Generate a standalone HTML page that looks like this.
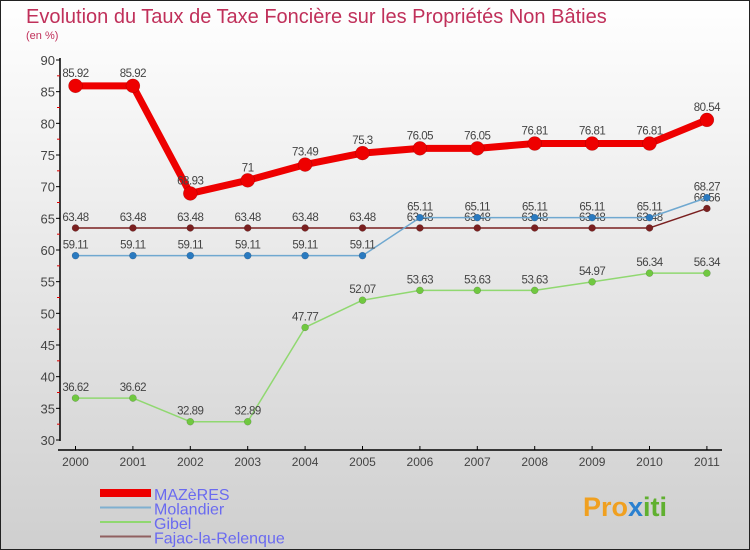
<!DOCTYPE html>
<html><head><meta charset="utf-8"><style>
body{margin:0;width:750px;height:550px;overflow:hidden}
svg{display:block;font-family:"Liberation Sans","DejaVu Sans",sans-serif}
</style></head><body>
<svg id="c" width="750" height="550">
<defs><linearGradient id="bg" x1="0" y1="0" x2="0" y2="1"><stop offset="0" stop-color="#ffffff"/><stop offset="1" stop-color="#cfcfcf"/></linearGradient></defs>
<rect x="0.5" y="0.5" width="749" height="549" fill="url(#bg)" stroke="#222"/>
<text x="26" y="23" font-size="20" fill="#c0305a">Evolution du Taux de Taxe Foncière sur les Propriétés Non Bâties</text>
<text x="26" y="39" font-size="11" fill="#c0305a">(en %)</text>
<g id="axes"></g><g id="series"></g><g id="legend"></g>
<text x="583" y="516" font-size="27" font-weight="bold" fill="#f0a020">Pro<tspan fill="#2a80d0">x</tspan><tspan fill="#60b030">iti</tspan></text>
</svg>
<script>
const years=["2000","2001","2002","2003","2004","2005","2006","2007","2008","2009","2010","2011"];
const mazeres=[85.92,85.92,68.93,71,73.49,75.3,76.05,76.05,76.81,76.81,76.81,80.54];
const molandier=[59.11,59.11,59.11,59.11,59.11,59.11,65.11,65.11,65.11,65.11,65.11,68.27];
const gibel=[36.62,36.62,32.89,32.89,47.77,52.07,53.63,53.63,53.63,54.97,56.34,56.34];
const fajac=[63.48,63.48,63.48,63.48,63.48,63.48,63.48,63.48,63.48,63.48,63.48,66.56];
const yTicks=[30,35,40,45,50,55,60,65,70,75,80,85,90];
const NS="http://www.w3.org/2000/svg";
function X(i){return 75.5+i*57.4;}
function Y(v){return 440-(v-30)*380/60;}
function mk(p,t,a){const e=document.createElementNS(NS,t);for(const k in a)e.setAttribute(k,a[k]);p.appendChild(e);return e;}
function fmt(v){return String(v);}
const ax=document.getElementById('axes');
let l=mk(ax,'line',{x1:60,y1:58,x2:60,y2:441,stroke:'#000','stroke-width':1.5});

l=mk(ax,'line',{x1:58,y1:450,x2:722,y2:450,stroke:'#000','stroke-width':1.5});

yTicks.forEach((v,i)=>{
 mk(ax,'line',{x1:56,y1:Y(v),x2:60,y2:Y(v),stroke:'#000'});
 if(i<yTicks.length-1)mk(ax,'line',{x1:57,y1:Y(v+2.5),x2:60,y2:Y(v+2.5),stroke:'#d00'});
 const t=mk(ax,'text',{x:55,y:Y(v)+5,'text-anchor':'end','font-size':13,fill:'#444'});
 t.textContent=v;
});
years.forEach((y,i)=>{
 mk(ax,'line',{x1:X(i),y1:446,x2:X(i),y2:450,stroke:'#000'});
 const t=mk(ax,'text',{x:X(i),y:466,'text-anchor':'middle','font-size':12,fill:'#444'});
 t.textContent=y;
});
const S=[
 {d:fajac,c:'#7a2020',w:1.5,r:3.5,n:'fajac'},
 {d:molandier,c:'#6fa8d0',w:1.5,r:3.5,n:'molandier',pc:'#2a7ac0'},
 {d:gibel,c:'#90d870',w:1.5,r:3.5,n:'gibel',pc:'#70c840'},
 {d:mazeres,c:'#ee0000',w:7,r:7,n:'mazeres'}
];
const sg=document.getElementById('series');
S.forEach(s=>{
 const g=mk(sg,'g',{});
 const p=mk(g,'polyline',{points:s.d.map((v,i)=>X(i)+','+Y(v)).join(' '),fill:'none',stroke:s.c,'stroke-width':s.w,'stroke-linejoin':'round'});
 
 s.d.forEach((v,i)=>{
  const c=mk(g,'circle',{cx:X(i),cy:Y(v),r:s.r,fill:s.pc||s.c,stroke:'rgba(0,0,0,0.25)','stroke-width':0.5});
  
  const t=mk(g,'text',{x:X(i),y:Y(v)-(s.n==='mazeres'?9:7),'text-anchor':'middle','font-size':11.5,fill:'#444','letter-spacing':'-0.5'});
  t.textContent=fmt(v);
 });
});
const lg=document.getElementById('legend');
[['MAZèRES','#ee0000',8],['Molandier','#7fb0d0',2],['Gibel','#90d870',2],['Fajac-la-Relenque','#906060',2]].forEach((e,i)=>{
 const y=493+i*14.5;
 const g=mk(lg,'g',{});
 mk(g,'line',{x1:100,y1:y,x2:151,y2:y,stroke:e[1],'stroke-width':e[2]});
 const t=mk(g,'text',{x:154,y:y+7,'font-size':16,fill:'#6a6af0'});t.textContent=e[0];
});
</script>
</body></html>
